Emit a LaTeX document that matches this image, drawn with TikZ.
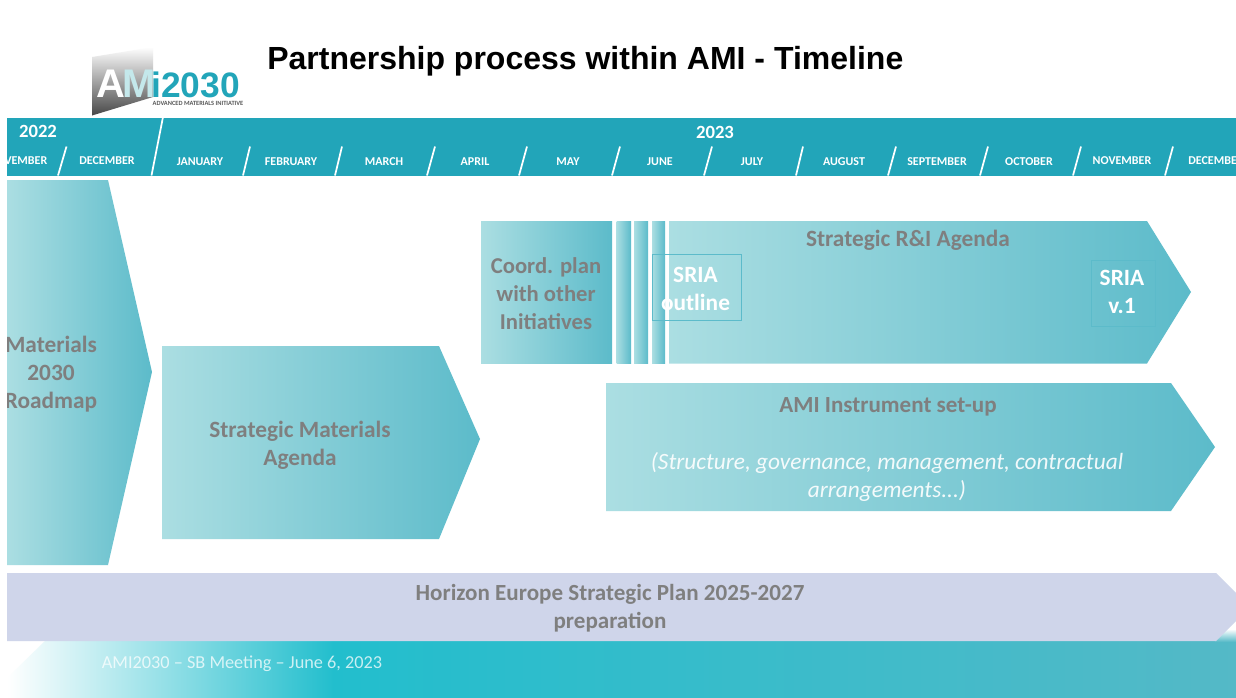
\documentclass[tikz,border=0pt]{standalone}
\usepackage{fontspec}
\setmainfont{Carlito}
\newfontfamily\titlefont{Liberation Sans}
\usetikzlibrary{calc}
\definecolor{band}{HTML}{22A5B9}
\definecolor{lightT}{HTML}{ABDEE2}
\definecolor{darkT}{HTML}{5CBBCA}
\definecolor{greyT}{HTML}{7F7F7F}
\definecolor{lav}{HTML}{CFD5EA}
\definecolor{foot}{HTML}{22BECD}
\definecolor{footR}{HTML}{54B9C7}
\tikzset{
  grad/.style={left color=lightT,right color=darkT,draw=none},
  lab/.style={text=greyT,font=\fontsize{17.5}{21}\selectfont\bfseries,align=center,inner sep=0pt},
  whitelab/.style={text=white,font=\fontsize{17.5}{21}\selectfont\bfseries,align=center,inner sep=0pt},
  month/.style={text=white,font=\fontsize{9}{10}\selectfont\bfseries,inner sep=0pt},
  year/.style={text=white,font=\fontsize{14}{16}\selectfont\bfseries,inner sep=0pt},
  slash/.style={draw=white,line width=1.3pt},
  tbox/.style={draw=darkT,line width=0.7pt},
}
\begin{document}
\begin{tikzpicture}[x=0.75pt,y=-0.75pt]
\useasboundingbox (0,0) rectangle (1236,697);
\clip (0,0) rectangle (1236,697);
\fill[white] (0,0) rectangle (1236,697);
\begin{scope}
\clip (7,0) rectangle (1236,697);
% footer
\path[left color=white,right color=foot] (7,678) -- (45,641) -- (334,641) -- (334,705) -- (7,705) -- cycle;
\path[left color=foot,right color=footR] (333,641) rectangle (1236,705);
\path[top color=white,bottom color=footR] (1215,629) rectangle (1236,642);
\node[text=white,opacity=0.75,font=\fontsize{13.7}{15}\selectfont,inner sep=0pt] (footer) at (242,664) {AMI2030 – SB Meeting – June 6, 2023};
% horizon
\path[fill=lav] (7,573) -- (1216,573) -- (1250,607) -- (1216,641) -- (7,641) -- cycle;
\node[lab,font=\fontsize{17.3}{21}\selectfont\bfseries] (horizon) at (610,608.5) {Horizon Europe Strategic Plan 2025-2027\\preparation};
% header band
\fill[band] (7,118) rectangle (1236,175.5);
\foreach \a/\b in {66.5/58,250/243,342/335,435/427,527/519,620/612,712/704,803/796,896/888,988/980,1081/1073,1173/1165}{
  \draw[slash] (\a,146.5) -- (\b,175.5);
}
\draw[slash] (163,117) -- (151.5,175.5);
\draw[draw=white,opacity=0.5,line width=0.6pt] (7,176) -- (1236,176);
\node[year] (y22) at (38,131) {2022};
\node[year] (y23) at (715,132) {2023};
\node[month] (m0) at (18,161) {NOVEMBER};
\node[month] (m1) at (107,161) {DECEMBER};
\node[month] (m2) at (200,162) {JANUARY};
\node[month] (m3) at (291,162) {FEBRUARY};
\node[month] (m4) at (384,162) {MARCH};
\node[month] (m5) at (475,162) {APRIL};
\node[month] (m6) at (568,162) {MAY};
\node[month] (m7) at (660,162) {JUNE};
\node[month] (m8) at (752,162) {JULY};
\node[month] (m9) at (844,162) {AUGUST};
\node[month] (m10) at (937,162) {SEPTEMBER};
\node[month] (m11) at (1029,162) {OCTOBER};
\node[month] (m12) at (1122,160.5) {NOVEMBER};
\node[month] (m13) at (1216,161) {DECEMBER};
% roadmap
\path[grad] (7,180) -- (108,180) -- (152,372) -- (108,565) -- (7,565) -- cycle;
\node[lab] (roadmap) at (51,374) {Materials\\2030\\Roadmap};
\end{scope}
% strategic materials agenda
\path[grad] (162,346) -- (439,346) -- (480,439) -- (439,539) -- (162,539) -- cycle;
\node[lab] (sma) at (300,445) {Strategic Materials\\Agenda};
% coord
\path[grad] (481,221) rectangle (612,363.5);
\node[lab,font=\fontsize{17}{21}\selectfont\bfseries] (coord) at (546,294) {Coord. plan\\with other\\Initiatives};
\path[grad] (616.5,221) rectangle (631,363.5);
\path[grad] (634,221) rectangle (648,363.5);
\path[grad] (652,221) rectangle (665,363.5);
% R&I
\path[grad] (669,221) -- (1147,221) -- (1191,292) -- (1147,363.5) -- (669,363.5) -- cycle;
\node[lab] (ria) at (908,240) {Strategic R\&I Agenda};
\draw[tbox] (652.5,254) rectangle (741.5,320);
\node[whitelab] (outline) at (695.5,288.5) {SRIA\\outline};
\draw[tbox] (1091,260) rectangle (1155,326);
\node[whitelab] (v1) at (1122,292) {SRIA\\v.1};
% AMI instrument
\path[grad] (606,383) -- (1171,383) -- (1215,447) -- (1171,511) -- (606,511) -- cycle;
\node[lab,font=\fontsize{17.3}{21}\selectfont\bfseries] (inst) at (888,407) {AMI Instrument set-up};
\node[inner sep=0pt,align=center,text=white,opacity=0.9,font=\fontsize{17.5}{21.5}\selectfont\itshape] (inst2) at (887,477) {(Structure, governance, management, contractual\\arrangements...)};
% logo
\path[top color=white,bottom color=black!72] (92,57) -- (153,47) -- (153,97) -- (92,115.5) -- cycle;
\node[text=white,font=\titlefont\fontsize{30}{30}\selectfont\bfseries,inner sep=0pt,anchor=base west] (logoA) at (96,97) {A};
\node[text=lightT!70,font=\titlefont\fontsize{30}{30}\selectfont\bfseries,inner sep=0pt,anchor=base west] (logoM) at (122,97) {M};
\node[text=band,font=\titlefont\fontsize{26.5}{26}\selectfont\bfseries,inner sep=0pt,anchor=base west] (logoB) at (151,97) {i2030};
\node[text=black!65,font=\fontsize{4.8}{5}\selectfont\bfseries,inner sep=0pt] (logoC) at (198,103.5) {ADVANCED MATERIALS INITIATIVE};
% title
\node[font=\titlefont\fontsize{24}{28}\selectfont\bfseries,inner sep=0pt,anchor=base west] (title) at (267,69) {Partnership process within AMI - Timeline};
\end{tikzpicture}
\end{document}
